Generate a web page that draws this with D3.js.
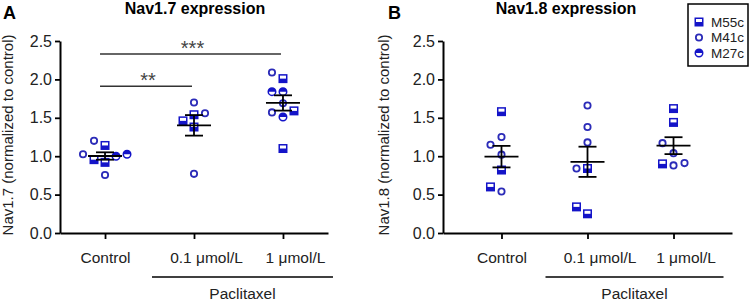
<!DOCTYPE html>
<html>
<head>
<meta charset="utf-8">
<script src="https://cdn.jsdelivr.net/npm/d3@7"></script>
<style>
  body { margin: 0; background: #fff; }
  svg { display: block; }
</style>
</head>
<body>
<script>
// categories and series
const groups = ["Control", "0.1 μmol/L", "1 μmol/L"];
const seriesNames = ["M55c", "M41c", "M27c"];
const yTicks = [0, 0.5, 1.0, 1.5, 2.0, 2.5];

// Nav1.7 values, one inner array per group
const nav17M55c = [[1.14, 0.955, 0.92], [1.46, 1.54, 1.38], [2.01, 1.59, 1.10]];
const nav17M41c = [[1.20, 1.025, 0.755], [1.70, 1.56, 0.77], [2.09, 1.69, 1.57]];
const nav17M27c = [[1.025, 1.00], [], [1.84, 1.84, 1.51]];

// Nav1.8 values
const nav18M55c = [[1.58, 0.82, 0.60], [0.84, 0.34, 0.25], [1.62, 1.44, 0.90]];
const nav18M41c = [[1.25, 1.15, 1.02, 0.54], [1.66, 1.38, 1.18, 0.84], [1.17, 1.04, 0.91, 0.88]];
const nav18M27c = [[], [], []];

// significance brackets: [from, to, label, height]
const nav17Stars = [
  ["Control", "0.1 μmol/L", "**", 1.91],
  ["Control", "1 μmol/L", "***", 2.33],
];

const width = 750, height = 301;
const font = "'Liberation Sans', Arial, sans-serif";
const blue = "#1414c8";
const ringBlue = "#2b2bb8";

const svg = d3
  .select("body")
  .append("svg")
  .attr("width", width)
  .attr("height", height)
  .attr("viewBox", [0, 0, width, height])
  .attr("font-family", font);

function toPoints(m55, m41, m27) {
  const pts = [];
  groups.forEach((g, gi) => {
    [m55, m41, m27].forEach((arr, si) => {
      arr[gi].forEach((v) => pts.push({ group: g, series: seriesNames[si], value: v }));
    });
  });
  return pts;
}

// simple beeswarm: lowest value first, push sideways until no overlap
function swarm(points, y, step) {
  const placed = [];
  points
    .slice()
    .sort((a, b) => a.value - b.value)
    .forEach((p) => {
      const py = y(p.value);
      for (let k = 0; k < 20; k++) {
        const offs = k === 0 ? [0] : [-k * step, k * step];
        const ok = offs.find((o) =>
          placed.every((q) => Math.hypot(q.dx - o, q.py - py) >= step)
        );
        if (ok !== undefined) {
          p.dx = ok;
          p.py = py;
          placed.push(p);
          break;
        }
      }
    });
}

function drawMarker(g, series, size) {
  const s = size;
  if (series === "M55c") {
    g.append("rect").attr("x", -s / 2).attr("y", -s / 2).attr("width", s).attr("height", s)
      .attr("fill", "#fff").attr("stroke", blue).attr("stroke-width", 1.5);
    g.append("rect").attr("x", -s / 2).attr("y", 0).attr("width", s).attr("height", s / 2)
      .attr("fill", blue);
  } else if (series === "M41c") {
    g.append("circle").attr("r", s / 2 - 0.6).attr("fill", "#fff")
      .attr("stroke", ringBlue).attr("stroke-width", 1.8);
  } else {
    const r = s / 2;
    g.append("circle").attr("r", r).attr("fill", "#fff")
      .attr("stroke", blue).attr("stroke-width", 1.5);
    g.append("path")
      .attr("d", `M${-r},0 A${r},${r} 0 0 1 ${r},0 Z`)
      .attr("fill", blue);
  }
}

function panel(points, { letter, letterX, title, titleX, yLabel, labelX, x0, x1, padding, stars = [] }) {
  const x = d3.scalePoint(groups, [x0, x1]).padding(padding);
  const y = d3.scaleLinear([0, 2.5], [233, 41]);

  svg.append("text").attr("x", letterX).attr("y", 19)
    .attr("font-size", 18).attr("font-weight", 700).text(letter);
  svg.append("text").attr("x", titleX).attr("y", 13.5).attr("text-anchor", "middle")
    .attr("font-size", 16).attr("font-weight", 700).text(title);
  svg.append("text")
    .attr("transform", `translate(${labelX},135) rotate(-90)`)
    .attr("text-anchor", "middle").attr("font-size", 15).attr("fill", "#222")
    .text(yLabel);

  // y axis
  svg.append("g")
    .attr("transform", `translate(${x0},0)`)
    .call(d3.axisLeft(y).tickValues(yTicks).tickFormat(d3.format(".1f"))
      .tickSize(5).tickSizeOuter(0).tickPadding(3))
    .call((g) => g.select(".domain").attr("stroke-width", 2))
    .call((g) => g.selectAll(".tick line").attr("stroke-width", 1.8))
    .call((g) => g.selectAll(".tick text").attr("font-size", 16)
      .attr("font-family", font).attr("fill", "#222"));

  // x axis
  svg.append("g")
    .attr("transform", `translate(0,${y(0)})`)
    .call(d3.axisBottom(x).tickSize(6).tickSizeOuter(0).tickPadding(13))
    .call((g) => g.select(".domain").attr("stroke-width", 2))
    .call((g) => g.selectAll(".tick line").attr("stroke-width", 1.8))
    .call((g) => g.selectAll(".tick text").attr("font-size", 15.5)
      .attr("font-family", font).attr("fill", "#222")
      .attr("dx", (d, i) => (i ? 12 : 0)));

  // points
  groups.forEach((grp) => {
    const pts = points.filter((p) => p.group === grp);
    swarm(pts, y, 11);
    pts.forEach((p) => {
      const g = svg.append("g").attr("transform", `translate(${x(grp) + p.dx},${p.py})`);
      drawMarker(g, p.series, 7.5);
    });
  });

  // mean ± SEM
  groups.forEach((grp) => {
    const vals = points.filter((p) => p.group === grp).map((p) => p.value);
    const m = d3.mean(vals);
    const sem = d3.deviation(vals) / Math.sqrt(vals.length);
    const cx = x(grp);
    const g = svg.append("g").attr("stroke", "#000").attr("stroke-width", 1.8);
    g.append("line").attr("x1", cx - 17).attr("x2", cx + 17).attr("y1", y(m)).attr("y2", y(m));
    g.append("line").attr("x1", cx).attr("x2", cx).attr("y1", y(m - sem)).attr("y2", y(m + sem));
    [m - sem, m + sem].forEach((v) =>
      g.append("line").attr("x1", cx - 9).attr("x2", cx + 9).attr("y1", y(v)).attr("y2", y(v))
    );
  });

  // significance
  stars.forEach(([a, b, label, h]) => {
    const xa = x(a) - 5, xb = x(b) - 2;
    svg.append("line").attr("x1", xa).attr("x2", xb).attr("y1", y(h)).attr("y2", y(h))
      .attr("stroke", "#333").attr("stroke-width", 1.5);
    svg.append("text").attr("x", (xa + xb) / 2 + 2).attr("y", y(h) + 1)
      .attr("text-anchor", "middle").attr("font-size", 20).attr("fill", "#444").text(label);
  });

  // Paclitaxel bracket
  const px0 = x(groups[1]) - 42, px1 = x(groups[2]) + 50;
  svg.append("line").attr("x1", px0).attr("x2", px1).attr("y1", 277).attr("y2", 277)
    .attr("stroke", "#000").attr("stroke-width", 1.5);
  svg.append("text").attr("x", (px0 + px1) / 2).attr("y", 299).attr("text-anchor", "middle")
    .attr("font-size", 15.5).attr("fill", "#222").text("Paclitaxel");
}

panel(toPoints(nav17M55c, nav17M41c, nav17M27c), {
  letter: "A", letterX: 3, title: "Nav1.7 expression", titleX: 195,
  yLabel: "Nav1.7 (normalized  to control)", labelX: 13,
  x0: 60, x1: 328, padding: 0.506, stars: nav17Stars,
});

panel(toPoints(nav18M55c, nav18M41c, nav18M27c), {
  letter: "B", letterX: 388, title: "Nav1.8 expression", titleX: 566,
  yLabel: "Nav1.8 (normalized to control)", labelX: 389,
  x0: 443, x1: 732, padding: 0.68,
});

// legend
const legend = svg.append("g").attr("transform", "translate(688,4)");
legend.append("rect").attr("width", 60).attr("height", 62)
  .attr("fill", "#fff").attr("stroke", "#000").attr("stroke-width", 1.5);
seriesNames.forEach((name, i) => {
  const row = legend.append("g").attr("transform", `translate(11,${18 + i * 15.5})`);
  drawMarker(row.append("g"), name, 7.5);
  row.append("text").attr("x", 12).attr("y", 4.5).attr("font-size", 13.5)
    .attr("fill", "#222").text(name);
});
</script>
</body>
</html>
